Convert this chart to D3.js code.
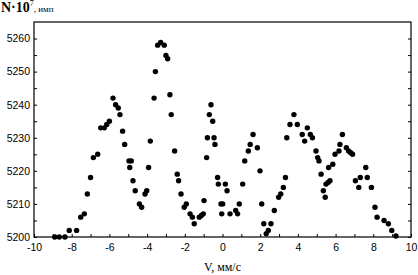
<!DOCTYPE html>
<html><head><meta charset="utf-8">
<script src="https://cdn.jsdelivr.net/npm/d3@7"></script>
<style>body{margin:0;background:#fff}svg{display:block}</style>
</head><body>
<svg id="c" width="418" height="275"></svg>
<script>
const velocity = [-8.9,-8.66,-8.36,-8.13,-7.74,-7.52,-7.33,-7.17,-7.0,-6.85,-6.62,-6.46,-6.27,-6.14,-6.0,-5.81,-5.67,-5.53,-5.44,-5.3,-5.19,-4.96,-4.84,-4.92,-4.75,-4.63,-4.41,-4.29,-4.11,-4.02,-3.92,-3.83,-3.63,-3.56,-3.44,-3.28,-3.09,-3.0,-2.91,-2.79,-2.72,-2.54,-2.4,-2.33,-2.2,-2.03,-1.92,-1.72,-1.6,-1.5,-1.23,-1.12,-1.02,-0.98,-0.84,-0.8,-0.7,-0.61,-0.52,-0.45,-0.4,-0.26,-0.22,-0.08,0.01,-0.04,0.15,0.24,0.4,0.7,0.8,0.89,1.07,1.18,1.37,1.47,1.62,1.85,1.99,2.08,2.19,2.32,2.43,2.57,2.75,2.98,3.09,3.23,3.34,3.41,3.58,3.79,3.97,4.23,4.36,4.5,4.66,4.77,4.96,5.05,5.12,5.23,5.35,5.45,5.49,5.6,5.7,5.63,5.85,5.97,6.18,6.23,6.36,6.57,6.69,6.8,6.9,7.05,7.23,7.31,7.6,7.68,7.9,8.09,8.2,8.57,8.8,8.98,9.2];
const counts = [5200,5200,5200,5202,5202,5206,5207,5213,5218,5224,5225,5233,5233,5234,5235,5242,5240,5239,5237,5232,5228,5223,5223,5221,5217,5214,5210,5209,5213,5214,5221,5229,5242,5250,5258,5258.8,5258,5254.9,5253.9,5243,5237,5226,5219,5217,5213,5209,5210,5207,5206,5204,5206,5206.5,5207,5211,5224,5230,5237,5240,5235,5230,5228,5218,5216,5210,5210,5207,5216,5214,5207,5208,5207,5210,5216,5223,5226,5228,5231,5227,5220,5210,5204,5201,5202,5204,5208,5212,5213,5215,5218,5230,5234,5237,5234,5231,5229,5233,5231,5230,5226,5224,5223,5219,5214,5212,5216,5216.5,5217,5221,5222,5225,5226,5228,5231,5227,5226,5225.5,5225,5217,5215,5218,5221,5218,5215,5209,5206,5205,5204,5202,5200.3];
const xTicks = [-10,-8,-6,-4,-2,0,2,4,6,8,10];
const yTicks = [5200,5210,5220,5230,5240,5250,5260];
const xLabel = "V, мм/с";

const svg = d3.select("#c");
const L = 34, R = 411, T = 22, B = 237;
const x = d3.scaleLinear().domain([-10, 10]).range([L, R]);
const y = d3.scaleLinear().domain([5200, 5265]).range([B, T]);

svg.append("rect").attr("x", L).attr("y", T).attr("width", R - L).attr("height", B - T)
  .attr("fill", "none").attr("stroke", "#000").attr("stroke-width", 1.2);

const font = "'Liberation Sans', Arial, sans-serif";
const gx = svg.append("g").attr("transform", `translate(0,${B})`)
  .call(d3.axisBottom(x).tickValues(d3.range(-10, 11, 1)).tickSize(-3).tickFormat(d => xTicks.includes(d) ? d : ""));
gx.select(".domain").remove();
gx.selectAll("line").attr("stroke", "#000");
gx.selectAll("text").attr("y", 7).attr("font-family", font).attr("font-size", 10.5).attr("fill", "#000");

const gy = svg.append("g").attr("transform", `translate(${L},0)`)
  .call(d3.axisLeft(y).tickValues(d3.range(5200, 5265, 5)).tickSize(-3).tickFormat(d => yTicks.includes(d) ? d : ""));
gy.select(".domain").remove();
gy.selectAll("line").attr("stroke", "#000");
gy.selectAll("text").attr("x", -4).attr("font-family", font).attr("font-size", 10.5).attr("fill", "#000");

const gr = svg.append("g").attr("transform", `translate(${R},0)`)
  .call(d3.axisRight(y).tickValues(d3.range(5200, 5265, 5)).tickSize(-3).tickFormat(""));
gr.select(".domain").remove();
gr.selectAll("line").attr("stroke", "#000");

svg.append("g").selectAll("circle").data(velocity.map((v, i) => [v, counts[i]])).join("circle")
  .attr("cx", d => x(d[0])).attr("cy", d => y(d[1])).attr("r", 2.7).attr("fill", "#000");

const yt = svg.append("text").attr("x", 1).attr("y", 12).attr("font-family", "'Liberation Serif', serif").attr("fill", "#000");
yt.append("tspan").attr("font-size", 14).attr("font-weight", "bold").text("N·10");
yt.append("tspan").attr("font-size", 8).attr("dy", -6).text("7");
yt.append("tspan").attr("font-size", 9).attr("dy", 6).text(", имп");

svg.append("text").attr("x", x(0)).attr("y", 271).attr("text-anchor", "middle")
  .attr("font-family", "'Liberation Serif', serif").attr("font-size", 12).attr("fill", "#000").text(xLabel);
</script>
</body></html>
